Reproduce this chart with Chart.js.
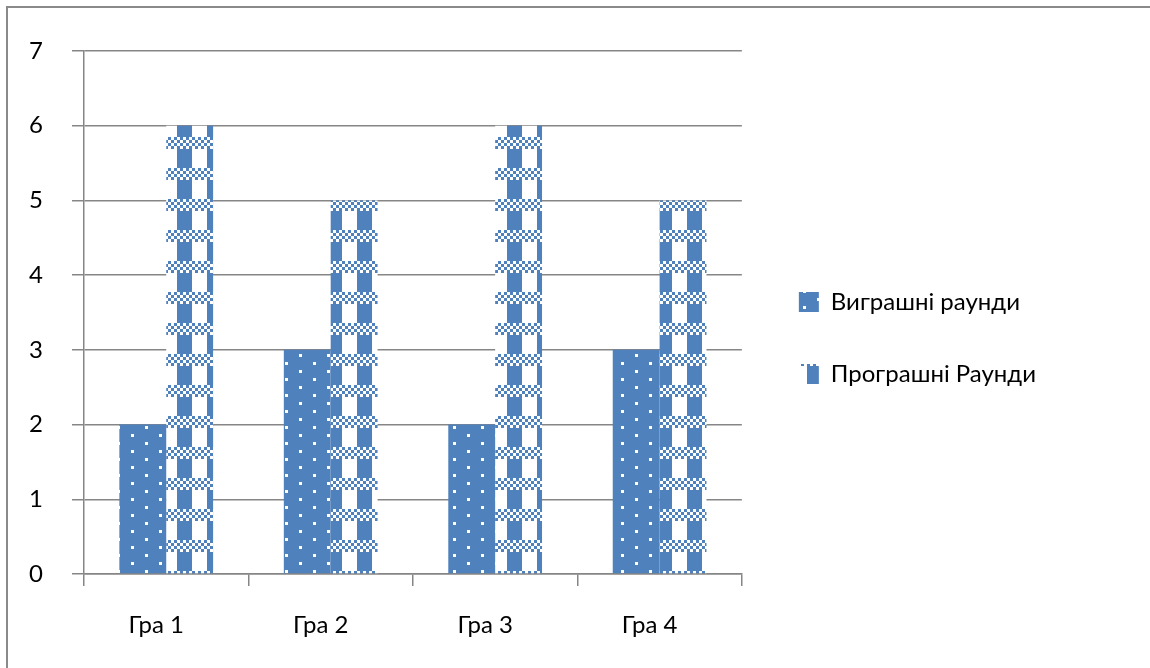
<!DOCTYPE html>
<html>
<head>
<meta charset="utf-8">
<script src="https://cdn.jsdelivr.net/npm/chart.js@4"></script>
<style>
  html, body { margin: 0; padding: 0; background: #fff; overflow: hidden; }
  #frame { position: absolute; left: 6px; top: 6px; width: 1300px; height: 800px; border: 2px solid #8a8a8a; }
  #chart { position: absolute; left: 0; top: 0; }
</style>
</head>
<body>
<div id="frame"></div>
<canvas id="chart" width="1150" height="668"></canvas>
<script>
// Data
const games = ['Гра 1', 'Гра 2', 'Гра 3', 'Гра 4'];
const wonRounds = [2, 3, 2, 3];
const lostRounds = [6, 5, 6, 5];
const seriesNames = ['Виграшні раунди', 'Програшні Раунди'];

const BLUE = '#4f81bd';
const GRID = '#868686';
const FONT = 'Lato, "Open Sans", sans-serif';

const ctx = document.getElementById('chart').getContext('2d');

// blue fill with small white dots
function dotPattern() {
  const c = document.createElement('canvas');
  c.width = 28; c.height = 16;
  const g = c.getContext('2d');
  g.fillStyle = BLUE;
  g.fillRect(0, 0, 28, 16);
  g.fillStyle = '#fff';
  g.fillRect(19, 2, 3, 3);
  g.fillRect(5, 10, 3, 3);
  return ctx.createPattern(c, 'repeat');
}

// white fill, blue vertical stripes, checker bands
function plaidPattern() {
  const c = document.createElement('canvas');
  c.width = 30; c.height = 31;
  const g = c.getContext('2d');
  g.fillStyle = '#fff';
  g.fillRect(0, 0, 30, 31);
  g.fillStyle = BLUE;
  g.fillRect(0, 0, 12, 31);
  g.fillRect(27, 0, 3, 31);
  g.fillStyle = '#fff';
  g.fillRect(0, 13, 30, 12);
  g.fillStyle = BLUE;
  for (let i = 0; i < 10; i++) {
    for (let j = 0; j < 4; j++) {
      if ((i + j) % 2 === 0) g.fillRect(i * 3, 13 + j * 3, 3, 3);
    }
  }
  return ctx.createPattern(c, 'repeat');
}

new Chart(ctx, {
  type: 'bar',
  data: {
    labels: games,
    datasets: [
      { label: seriesNames[0], data: wonRounds, backgroundColor: dotPattern(), borderWidth: 0 },
      { label: seriesNames[1], data: lostRounds, backgroundColor: plaidPattern(), borderWidth: 0 }
    ]
  },
  options: {
    responsive: false,
    animation: false,
    layout: { padding: { top: 51, right: 104, bottom: 0, left: 0 } },
    datasets: { bar: { categoryPercentage: 0.57, barPercentage: 1 } },
    plugins: {
      tooltip: { enabled: false },
      legend: {
        position: 'right',
        align: 'start',
        maxWidth: 500,
        // empty title only pushes the two items down to the middle
        title: { display: true, text: '', font: { size: 10, lineHeight: 1 }, padding: { top: 0, bottom: 181 } },
        labels: {
          color: '#000',
          font: { family: FONT, size: 24 },
          boxWidth: 20,
          boxHeight: 20,
          padding: 48
        }
      }
    },
    scales: {
      x: {
        afterFit: s => { s.height = 94; },
        grid: { offset: true, drawOnChartArea: false, color: GRID, lineWidth: 1.5, tickLength: 12 },
        border: { color: GRID, width: 1.5 },
        ticks: { color: '#000', font: { family: FONT, size: 24 }, padding: 25, labelOffset: -10 }
      },
      y: {
        min: 0, max: 7,
        afterFit: s => { s.width = 84; },
        grid: { color: GRID, lineWidth: 1.5, tickLength: 12 },
        border: { color: GRID, width: 1.5 },
        ticks: { stepSize: 1, color: '#000', font: { family: FONT, size: 24 }, padding: 29 }
      },
      gap: {
        // blank strip between the plot and the legend
        position: 'right',
        display: true,
        afterFit: s => { s.width = 9; },
        grid: { display: false },
        border: { display: false },
        ticks: { display: false }
      }
    }
  }
});
</script>
</body>
</html>
